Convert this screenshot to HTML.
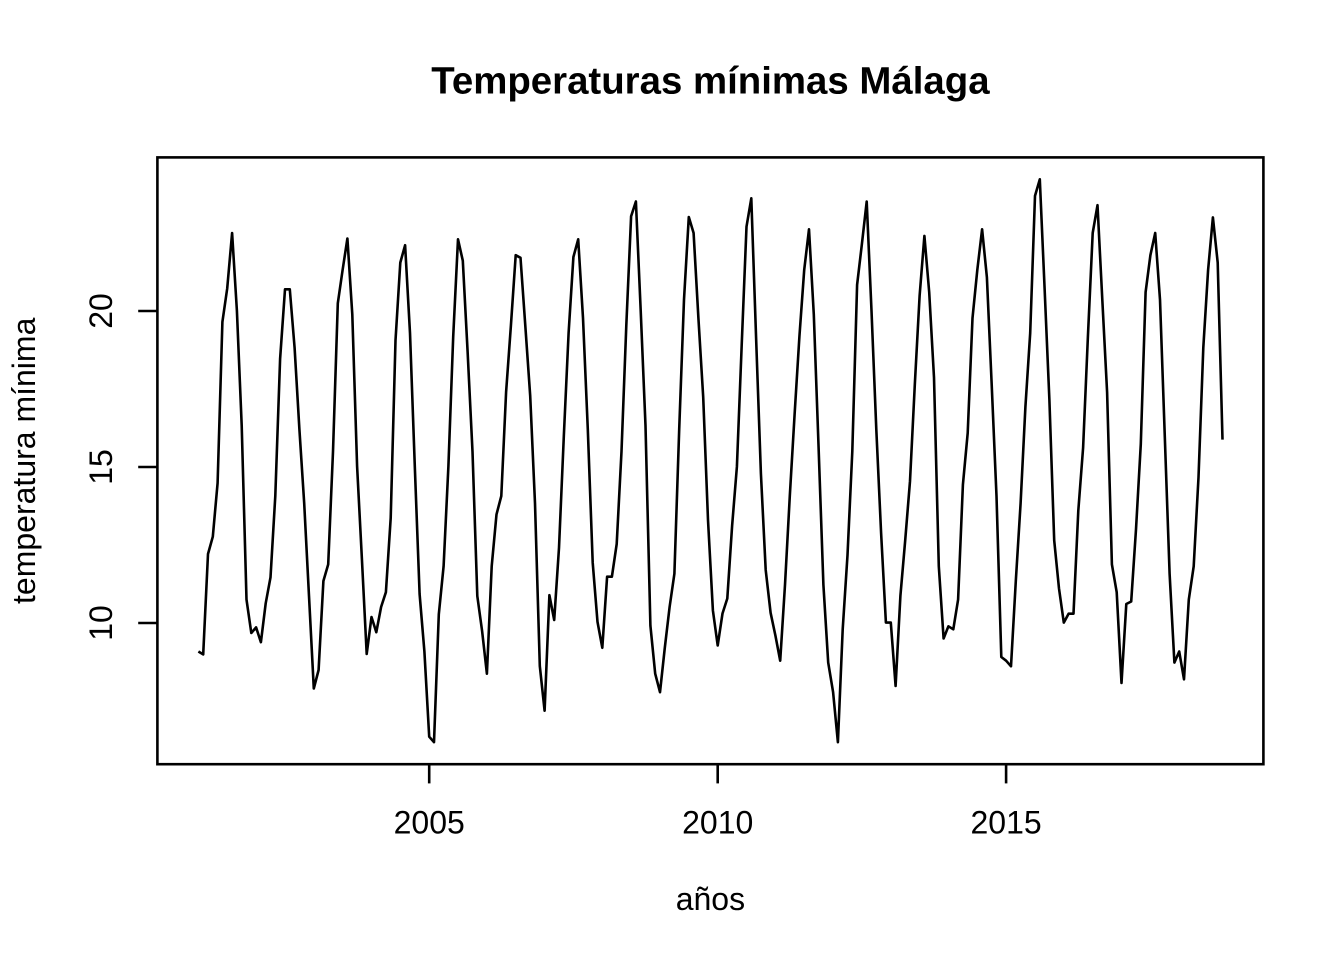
<!DOCTYPE html>
<html>
<head>
<meta charset="utf-8">
<style>
html,body{margin:0;padding:0;background:#fff;}
svg{display:block;}
text{font-family:"Liberation Sans",Arial,sans-serif;fill:#000;}
</style>
</head>
<body>
<svg width="1344" height="960" viewBox="0 0 1344 960" xmlns="http://www.w3.org/2000/svg">
<rect x="0" y="0" width="1344" height="960" fill="#fff"/>
<!-- title -->
<text x="710.4" y="93.3" font-size="38.4" font-weight="bold" text-anchor="middle">Temperaturas mínimas Málaga</text>
<!-- plot box -->
<rect x="157.4" y="157.4" width="1106" height="606.8" fill="none" stroke="#000" stroke-width="2.6"/>
<!-- x axis ticks -->
<g stroke="#000" stroke-width="2.6">
<line x1="429.2" y1="764.2" x2="429.2" y2="783.4"/>
<line x1="717.7" y1="764.2" x2="717.7" y2="783.4"/>
<line x1="1006.1" y1="764.2" x2="1006.1" y2="783.4"/>
<line x1="157.4" y1="623" x2="138.2" y2="623"/>
<line x1="157.4" y1="467" x2="138.2" y2="467"/>
<line x1="157.4" y1="311" x2="138.2" y2="311"/>
</g>
<g font-size="32" text-anchor="middle">
<text x="429.2" y="833.3">2005</text>
<text x="717.7" y="833.3">2010</text>
<text x="1006.1" y="833.3">2015</text>
<text transform="translate(112,623) rotate(-90)">10</text>
<text transform="translate(112,467) rotate(-90)">15</text>
<text transform="translate(112,311) rotate(-90)">20</text>
<text x="710.4" y="910">años</text>
<text transform="translate(35,460.8) rotate(-90)">temperatura mínima</text>
</g>
<!-- series -->
<polyline fill="none" stroke="#000" stroke-width="2.6" stroke-linejoin="round" points="
198.4,651.5 203.2,654.4 208.0,554 212.8,536.7 217.6,483 222.4,321.9 227.2,288.5 232.1,233 236.9,310.7 241.7,425.6
246.5,599.6 251.3,633 256.1,627.4 260.9,642.2 265.7,603.3 270.5,577.4 275.3,495.9 280.1,358.9 285.0,289.3 289.8,289.3
294.6,347.8 299.4,429.3 304.2,503.3 309.0,596 313.8,688.5 318.6,670 323.4,581 328.2,564.4 333.0,451.5 337.8,303.3
342.6,270 347.4,238.5 352.3,314.4 357.1,466.3 361.9,558.9 366.7,654 371.5,617 376.3,632.2 381.1,607 385.9,592.2
390.7,518 395.5,340.4 400.3,262.6 405.1,245.2 410.0,333 414.8,466.3 419.6,594 424.4,651.5 429.2,736.7 434.0,742.2
438.8,614.4 443.6,566.3 448.4,466.3 453.2,336.7 458.0,239.3 462.8,260.7 467.6,351.5 472.5,451.5 477.3,596 482.1,631
486.9,673.7 491.7,566.3 496.5,514.4 501.3,496 506.1,392 510.9,325.6 515.7,255.2 520.5,257.8 525.3,325.6 530.2,395.9
535.0,503.3 539.8,666 544.6,710.7 549.4,595.2 554.2,620 559.0,547.8 563.8,436.7 568.6,333 573.4,257 578.2,239.3
583.0,318 587.8,429.3 592.7,562.6 597.5,621.9 602.3,647.8 607.1,576.7 611.9,576.7 616.7,544 621.5,451.5 626.3,325.6
631.1,216.3 635.9,201.5 640.7,310.7 645.5,425.6 650.4,625.6 655.2,673.7 660.0,692.2 664.8,647.8 669.6,607 674.4,573.7
679.2,429.3 684.0,299.6 688.8,217 693.6,233 698.4,318 703.2,397 708.0,520 712.9,610.5 717.7,645.5 722.5,613.5
727.3,598.5 732.1,526 736.9,466.7 741.7,345 746.5,226.7 751.3,198.3 756.1,338 760.9,473.5 765.7,570 770.6,612.8
775.4,635.5 780.2,660.7 785.0,584.8 789.8,496 794.6,414.4 799.4,336.7 804.2,270 809.0,229.3 813.8,314.4 818.6,447.8
823.4,584.8 828.2,662.6 833.1,692.2 837.9,742.2 842.7,629.3 847.5,555.2 852.3,451.5 857.1,284.8 861.9,244 866.7,201.5
871.5,310.7 876.3,429.3 881.1,533 885.9,622.6 890.8,622.6 895.6,686 900.4,595.9 905.2,540.4 910.0,481.1 914.8,384.8
919.6,295.9 924.4,235.9 929.2,292.2 934.0,377.4 938.8,566.3 943.6,638.5 948.4,626.3 953.3,629.3 958.1,599.6 962.9,484.8
967.7,433 972.5,318.1 977.3,270 982.1,229.3 986.9,277.4 991.7,384.8 996.5,496 1001.3,657 1006.1,660.7 1011.0,666.3
1015.8,581.1 1020.6,503.3 1025.4,407 1030.2,333 1035.0,195.9 1039.8,179.3 1044.6,288.5 1049.4,400 1054.2,540.4 1059.0,588.5
1063.8,622.6 1068.6,613.7 1073.5,613.7 1078.3,510.7 1083.1,447.8 1087.9,336.7 1092.7,233 1097.5,205.2 1102.3,299.6 1107.1,392.2
1111.9,564.4 1116.7,592.2 1121.5,683 1126.3,604 1131.2,601.5 1136.0,529.3 1140.8,444 1145.6,292.2 1150.4,255.2 1155.2,233
1160.0,299.6 1164.8,436.7 1169.6,573.7 1174.4,662.6 1179.2,651.5 1184.0,679.3 1188.8,599.6 1193.7,566.3 1198.5,477.4 1203.3,347.8
1208.1,270 1212.9,217.4 1217.7,262.6 1222.5,439.6"/>
</svg>
</body>
</html>
